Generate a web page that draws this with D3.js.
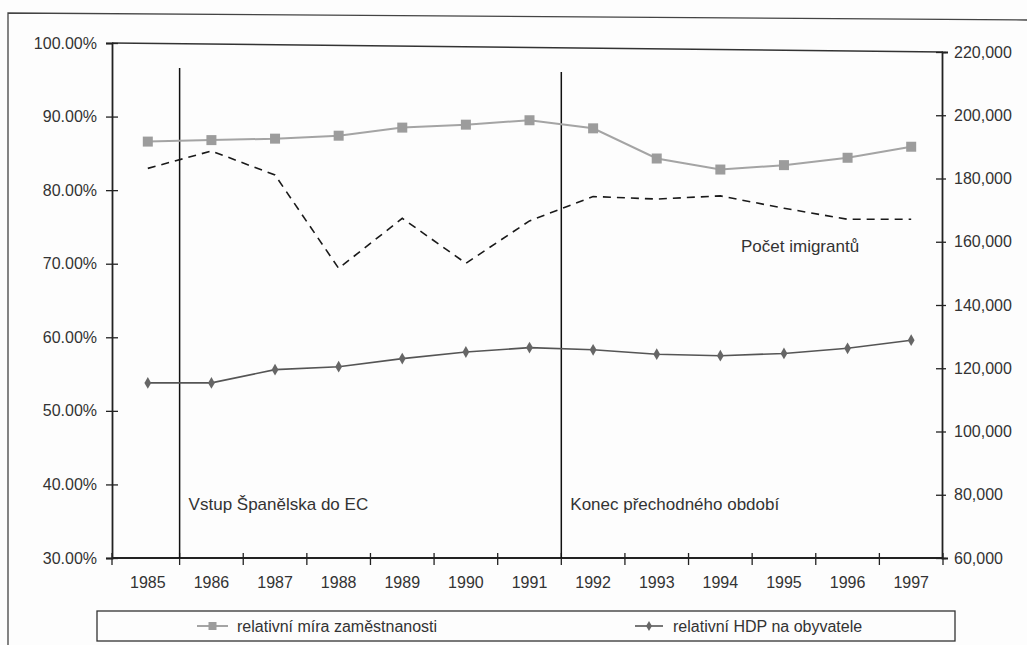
<!DOCTYPE html>
<html>
<head>
<meta charset="utf-8">
<script src="https://cdn.jsdelivr.net/npm/d3@7"></script>
<style>
  html, body { margin: 0; padding: 0; background: #fdfdfd; }
  svg { display: block; }
  text { font-family: "Liberation Sans", Arial, sans-serif; fill: #333; }
</style>
</head>
<body>
<svg id="chart" width="1027" height="645"></svg>
<script>
const years = ["1985","1986","1987","1988","1989","1990","1991","1992","1993","1994","1995","1996","1997"];
const employment = [0.866,0.868,0.870,0.874,0.885,0.889,0.895,0.884,0.843,0.828,0.834,0.844,0.859];
const gdp = [0.538,0.538,0.556,0.560,0.571,0.580,0.586,0.583,0.577,0.575,0.578,0.585,0.596];
const immigrants = [183200,188700,181100,151600,167400,153200,166600,174300,173500,174500,170600,167100,167100];
const leftTicks = [0.3,0.4,0.5,0.6,0.7,0.8,0.9,1.0];
const rightTicks = [60000,80000,100000,120000,140000,160000,180000,200000,220000];
const markerYears = ["1986","1992"];
const markerLabels = ["Vstup Španělska do EC","Konec přechodného období"];
const seriesNames = ["relativní míra zaměstnanosti","relativní HDP na obyvatele"];
const immigrantLabel = "Počet imigrantů";

const svg = d3.select("#chart");
const L = 112, R = 943, B = 558, TL = 43, TR = 52;

const x = d3.scaleBand().domain(years).range([L + 4, R]).padding(0);
const yL = d3.scaleLinear().domain([0.3, 1.0]).range([B, TL]);
const yR = d3.scaleLinear().domain([60000, 220000]).range([B, TR]);
const cx = d => x(d) + x.bandwidth() / 2;

// outer frame
svg.append("path").attr("d", "M8,645 L8,13 L1027,20")
  .attr("fill", "none").attr("stroke", "#444").attr("stroke-width", 1.3);

// plot top line (scan slightly skewed)
svg.append("line").attr("x1", L).attr("y1", TL).attr("x2", R).attr("y2", TR)
  .attr("stroke", "#333").attr("stroke-width", 1.5);

// left axis
const gL = svg.append("g").attr("transform", `translate(${L},0)`)
  .call(d3.axisLeft(yL).tickValues(leftTicks).tickFormat(d3.format(".2%")).tickSize(6).tickPadding(9));
gL.select(".domain").attr("stroke", "#222").attr("stroke-width", 1.8);
gL.selectAll(".tick line").attr("x1", -6).attr("x2", 6).attr("stroke", "#222").attr("stroke-width", 1.3);
gL.selectAll(".tick text").style("font-size", "16px").attr("fill", "#333");

// right axis
const gR = svg.append("g").attr("transform", `translate(${R - 1},0)`)
  .call(d3.axisRight(yR).tickValues(rightTicks).tickFormat(d3.format(",")).tickSize(6).tickPadding(6));
gR.select(".domain").attr("stroke", "#222").attr("stroke-width", 1.8);
gR.selectAll(".tick line").attr("x1", -6).attr("x2", 4).attr("stroke", "#222").attr("stroke-width", 1.3);
gR.selectAll(".tick text").style("font-size", "16px").attr("fill", "#444");

// bottom axis
const gB = svg.append("g").attr("transform", `translate(0,${B})`)
  .call(d3.axisBottom(x).tickSize(0).tickPadding(19));
gB.select(".domain").remove();
gB.append("line").attr("x1", L).attr("x2", R).attr("y1", 0).attr("y2", 0)
  .attr("stroke", "#222").attr("stroke-width", 1.8);
gB.selectAll(".tick text").style("font-size", "16px").attr("fill", "#333");
const bounds = years.slice(1).map(y => x(y)).concat([L, R]);
gB.selectAll(".xt").data(bounds).join("line").attr("class", "xt")
  .attr("x1", d => d).attr("x2", d => d).attr("y1", -5).attr("y2", 7)
  .attr("stroke", "#222").attr("stroke-width", 1.3);

// event vertical lines
const vTops = [68, 72];
markerYears.forEach((yr, i) => {
  svg.append("line").attr("x1", x(yr)).attr("x2", x(yr)).attr("y1", vTops[i]).attr("y2", B)
    .attr("stroke", "#111").attr("stroke-width", 1.5);
  svg.append("text").attr("x", x(yr) + 9).attr("y", 510)
    .style("font-size", "17px").attr("fill", "#333").text(markerLabels[i]);
});

// immigrants dashed line (right axis)
svg.append("path").datum(immigrants)
  .attr("d", d3.line().x((d, i) => cx(years[i])).y(d => yR(d)))
  .attr("fill", "none").attr("stroke", "#1a1a1a").attr("stroke-width", 1.6)
  .attr("stroke-dasharray", "8,6");
svg.append("text").attr("x", 741).attr("y", 252).style("font-size", "17px").attr("fill", "#444").text(immigrantLabel);

// employment line
svg.append("path").datum(employment)
  .attr("d", d3.line().x((d, i) => cx(years[i])).y(d => yL(d)))
  .attr("fill", "none").attr("stroke", "#a4a4a4").attr("stroke-width", 2);
svg.selectAll(".sq").data(employment).join("rect").attr("class", "sq")
  .attr("x", (d, i) => cx(years[i]) - 5).attr("y", d => yL(d) - 5)
  .attr("width", 10).attr("height", 10).attr("fill", "#9c9c9c");

// GDP line
svg.append("path").datum(gdp)
  .attr("d", d3.line().x((d, i) => cx(years[i])).y(d => yL(d)))
  .attr("fill", "none").attr("stroke", "#555").attr("stroke-width", 1.6);
svg.selectAll(".dm").data(gdp).join("path").attr("class", "dm")
  .attr("transform", (d, i) => `translate(${cx(years[i])},${yL(d)})`)
  .attr("d", d3.symbol(d3.symbolDiamond, 40)).attr("fill", "#666");

// legend
svg.append("rect").attr("x", 97).attr("y", 611).attr("width", 858).attr("height", 30)
  .attr("fill", "none").attr("stroke", "#333").attr("stroke-width", 1.3);
const lg = [{x1: 197, x2: 228, tx: 237}, {x1: 635, x2: 663, tx: 673}];
svg.append("line").attr("x1", lg[0].x1).attr("x2", lg[0].x2).attr("y1", 626).attr("y2", 626)
  .attr("stroke", "#a4a4a4").attr("stroke-width", 2);
svg.append("rect").attr("x", (lg[0].x1 + lg[0].x2) / 2 - 4).attr("y", 622).attr("width", 8).attr("height", 8).attr("fill", "#9c9c9c");
svg.append("text").attr("x", lg[0].tx).attr("y", 632).style("font-size", "16px").attr("fill", "#333").text(seriesNames[0]);
svg.append("line").attr("x1", lg[1].x1).attr("x2", lg[1].x2).attr("y1", 626).attr("y2", 626)
  .attr("stroke", "#555").attr("stroke-width", 1.6);
svg.append("path").attr("transform", `translate(${(lg[1].x1 + lg[1].x2) / 2},626)`)
  .attr("d", d3.symbol(d3.symbolDiamond, 30)).attr("fill", "#666");
svg.append("text").attr("x", lg[1].tx).attr("y", 632).style("font-size", "16px").attr("fill", "#333").text(seriesNames[1]);
</script>
</body>
</html>
